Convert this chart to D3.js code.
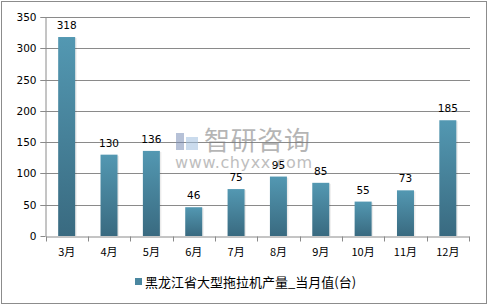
<!DOCTYPE html>
<html>
<head>
<meta charset="utf-8">
<script src="https://cdn.jsdelivr.net/npm/d3@7"></script>
<style>
  body { margin: 0; background: #fff; }
  svg { display: block; }
</style>
</head>
<body>
<div id="chart"></div>
<script>
const months = ['3月', '4月', '5月', '6月', '7月', '8月', '9月', '10月', '11月', '12月'];
const values = [318, 130, 136, 46, 75, 95, 85, 55, 73, 185];
const yTicks = [0, 50, 100, 150, 200, 250, 300, 350];
const seriesName = '黑龙江省大型拖拉机产量_当月值(台)';

const width = 488, height = 305;
const margin = { left: 45.5, right: 19, top: 17, bottom: 69 };

const svg = d3.select('#chart').append('svg')
  .attr('width', width)
  .attr('height', height);

// bar gradient
const defs = svg.append('defs');
const grad = defs.append('linearGradient')
  .attr('id', 'barGrad')
  .attr('x1', 0).attr('y1', 0).attr('x2', 0).attr('y2', 1);
grad.append('stop').attr('offset', '0%').attr('stop-color', '#5398b2');
grad.append('stop').attr('offset', '100%').attr('stop-color', '#396a80');

// outer frame
svg.append('rect')
  .attr('x', 1.5).attr('y', 1.5)
  .attr('width', width - 3).attr('height', height - 3)
  .attr('fill', 'none')
  .attr('stroke', '#8c8c8c')
  .attr('stroke-width', 1);

const x = d3.scaleBand()
  .domain(months)
  .range([margin.left, width - margin.right]);

const y = d3.scaleLinear()
  .domain([0, 350])
  .range([height - margin.bottom, margin.top]);

// gridlines
svg.append('g')
  .selectAll('line')
  .data(yTicks.filter(d => d > 0))
  .join('line')
  .attr('x1', margin.left - 5)
  .attr('x2', width - margin.right + 1)
  .attr('y1', d => Math.round(y(d)) + 0.5)
  .attr('y2', d => Math.round(y(d)) + 0.5)
  .attr('stroke', '#8a8a8a');

// y axis
const yAxis = svg.append('g')
  .attr('transform', `translate(${margin.left},0)`)
  .call(d3.axisLeft(y).tickValues(yTicks).tickSize(5).tickPadding(4).tickSizeOuter(0));
yAxis.select('.domain').attr('stroke', '#8a8a8a');
yAxis.selectAll('.tick line').attr('stroke', '#8a8a8a');
yAxis.selectAll('.tick').attr('transform', d => `translate(0,${Math.round(y(d)) + 0.5})`);
yAxis.selectAll('text')
  .attr('font-family', 'DejaVu Sans, sans-serif')
  .attr('font-size', 10.5)
  .attr('fill', '#000');

// x axis
const xAxis = svg.append('g')
  .attr('transform', `translate(0,${Math.round(y(0)) + 0.5})`)
  .call(d3.axisBottom(x).tickSize(0).tickPadding(12));
xAxis.select('.domain').attr('stroke', '#8a8a8a');
xAxis.selectAll('text')
  .attr('font-family', 'Noto Sans CJK SC, DejaVu Sans, sans-serif')
  .attr('font-size', 11)
  .attr('fill', '#000');
// boundary ticks between categories
svg.append('g')
  .selectAll('line')
  .data(d3.range(months.length + 1))
  .join('line')
  .attr('x1', i => Math.round(margin.left + i * x.step()) + 0.5)
  .attr('x2', i => Math.round(margin.left + i * x.step()) + 0.5)
  .attr('y1', Math.round(y(0)) + 0.5)
  .attr('y2', Math.round(y(0)) + 5.5)
  .attr('stroke', '#8a8a8a');

// bars
const barW = 17;
svg.append('g')
  .selectAll('rect.shadow')
  .data(values)
  .join('rect')
  .attr('x', (d, i) => x(months[i]) + x.bandwidth() / 2 - barW / 2 + 1.5)
  .attr('y', d => y(d) + 1)
  .attr('width', barW)
  .attr('height', d => y(0) - y(d) - 1)
  .attr('fill', '#000')
  .attr('opacity', 0.08);

svg.append('g')
  .selectAll('rect.bar')
  .data(values)
  .join('rect')
  .attr('x', (d, i) => x(months[i]) + x.bandwidth() / 2 - barW / 2)
  .attr('y', d => y(d))
  .attr('width', barW)
  .attr('height', d => y(0) - y(d))
  .attr('fill', 'url(#barGrad)');

// watermark
const wm = svg.append('g').attr('opacity', 0.55);
wm.append('rect').attr('x', 176).attr('y', 133).attr('width', 8).attr('height', 17).attr('fill', '#7b8fb8');
wm.append('rect').attr('x', 186).attr('y', 137).attr('width', 12).attr('height', 13).attr('fill', '#9fbfe0');
wm.append('text')
  .attr('x', 204).attr('y', 150)
  .attr('font-family', 'Noto Sans CJK SC, sans-serif')
  .attr('font-size', 26)
  .attr('textLength', 106)
  .attr('fill', '#7a7a7a')
  .text('智研咨询');
wm.append('text')
  .attr('x', 175).attr('y', 168)
  .attr('font-family', 'DejaVu Sans, sans-serif')
  .attr('font-size', 16)
  .attr('textLength', 137)
  .attr('fill', '#8a8a8a')
  .text('www.chyxx.com');

// value labels
svg.append('g')
  .selectAll('text')
  .data(values)
  .join('text')
  .attr('x', (d, i) => x(months[i]) + x.bandwidth() / 2)
  .attr('y', d => y(d) - 8)
  .attr('text-anchor', 'middle')
  .attr('font-family', 'DejaVu Sans, sans-serif')
  .attr('font-size', 10.5)
  .attr('fill', '#000')
  .text(d => d);

// legend
const legend = svg.append('g').attr('transform', 'translate(135,278)');
legend.append('rect')
  .attr('x', 0).attr('y', 0)
  .attr('width', 7).attr('height', 7)
  .attr('fill', '#4a87a0');
legend.append('text')
  .attr('x', 10).attr('y', 8.5)
  .attr('font-family', 'Noto Sans CJK SC, sans-serif')
  .attr('font-size', 13)
  .attr('fill', '#000')
  .text(seriesName);
</script>
</body>
</html>
